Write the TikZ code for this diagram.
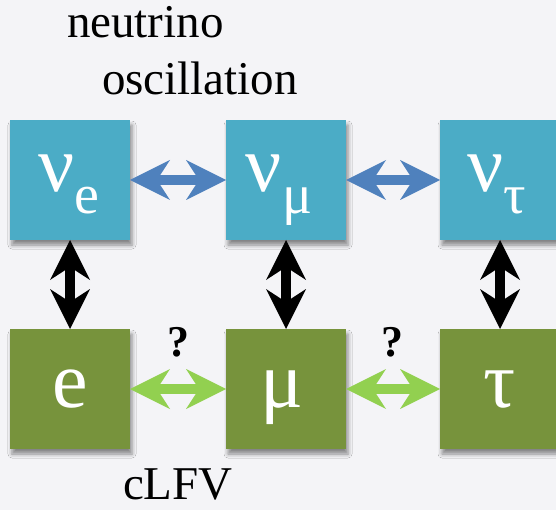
\documentclass[tikz,border=0pt]{standalone}
\usepackage{fontspec}
\setmainfont{Liberation Serif}
\usetikzlibrary{arrows.meta,shadows.blur}
\definecolor{bgcol}{HTML}{F4F4F7}
\definecolor{nucol}{HTML}{4BACC6}
\definecolor{lepcol}{HTML}{77933C}
\definecolor{osccol}{HTML}{4F81BD}
\definecolor{lfvcol}{HTML}{92D050}
\tikzset{
  flavbox/.style={minimum width=120pt,minimum height=120pt,inner sep=0pt,outer sep=0pt,
    blur shadow={shadow xshift=2pt,shadow yshift=-5pt,shadow blur radius=4pt,shadow opacity=45}},
  nubox/.style={flavbox,fill=nucol},
  lepbox/.style={flavbox,fill=lepcol},
  fattip/.tip={Stealth[length=40pt,width=40pt,inset=13pt,line width=0pt]},
  dblarr/.style={line width=10pt,fattip-fattip},
  oscarr/.style={dblarr,draw=osccol,fill=osccol},
  lfvarr/.style={dblarr,draw=lfvcol,fill=lfvcol},
  mixarr/.style={dblarr,draw=black,fill=black},
  plain/.style={inner sep=0pt,outer sep=0pt,anchor=base west,font=\fontsize{47}{47}\selectfont},
  flav/.style={inner sep=0pt,outer sep=0pt,anchor=base,text=white,font=\fontsize{80}{80}\selectfont},
  qmark/.style={inner sep=0pt,anchor=base,font=\fontsize{44}{44}\selectfont\bfseries},
}
\newcommand{\subflav}[1]{\raisebox{-22pt}{\fontsize{56}{56}\selectfont #1}}
\begin{document}
\begin{tikzpicture}[x=1pt,y=-1pt]
\fill[bgcol] (0,0) rectangle (556,510);
\useasboundingbox (0,0) rectangle (556,510);
\clip (0,0) rectangle (556,510);
% boxes
\node[nubox] (nue) at (70,180) {};
\node[nubox] (num) at (286,180) {};
\node[nubox] (nut) at (500,180) {};
\node[lepbox] (le) at (70,389) {};
\node[lepbox] (lm) at (286,389) {};
\node[lepbox] (lt) at (500,389) {};
% labels in boxes
\node[flav] (tnue) at (69,192) {ν\subflav{e}};
\node[flav] (tnum) at (279,192) {ν\subflav{μ}};
\node[flav] (tnut) at (497,192) {ν\subflav{τ}};
\node[flav] (tle) at (70,407) {e};
\node[flav] (tlm) at (282,407) {μ};
\node[flav] (tlt) at (500,407) {τ};
% arrows
\draw[oscarr] (nue) -- (num);
\draw[oscarr] (num) -- (nut);
\draw[lfvarr] (le) -- (lm);
\draw[lfvarr] (lm) -- (lt);
\draw[mixarr] (nue) -- (le);
\draw[mixarr] (num) -- (lm);
\draw[mixarr] (nut) -- (lt);
% question marks
\node[qmark] (q1) at (178,356) {?};
\node[qmark] (q2) at (392,356) {?};
% titles
\node[plain] (t1) at (67,38) {neutrino};
\node[plain] (t2) at (102,95) {oscillation};
\node[plain] (t3) at (123,499) {cLFV};
\end{tikzpicture}
\end{document}
